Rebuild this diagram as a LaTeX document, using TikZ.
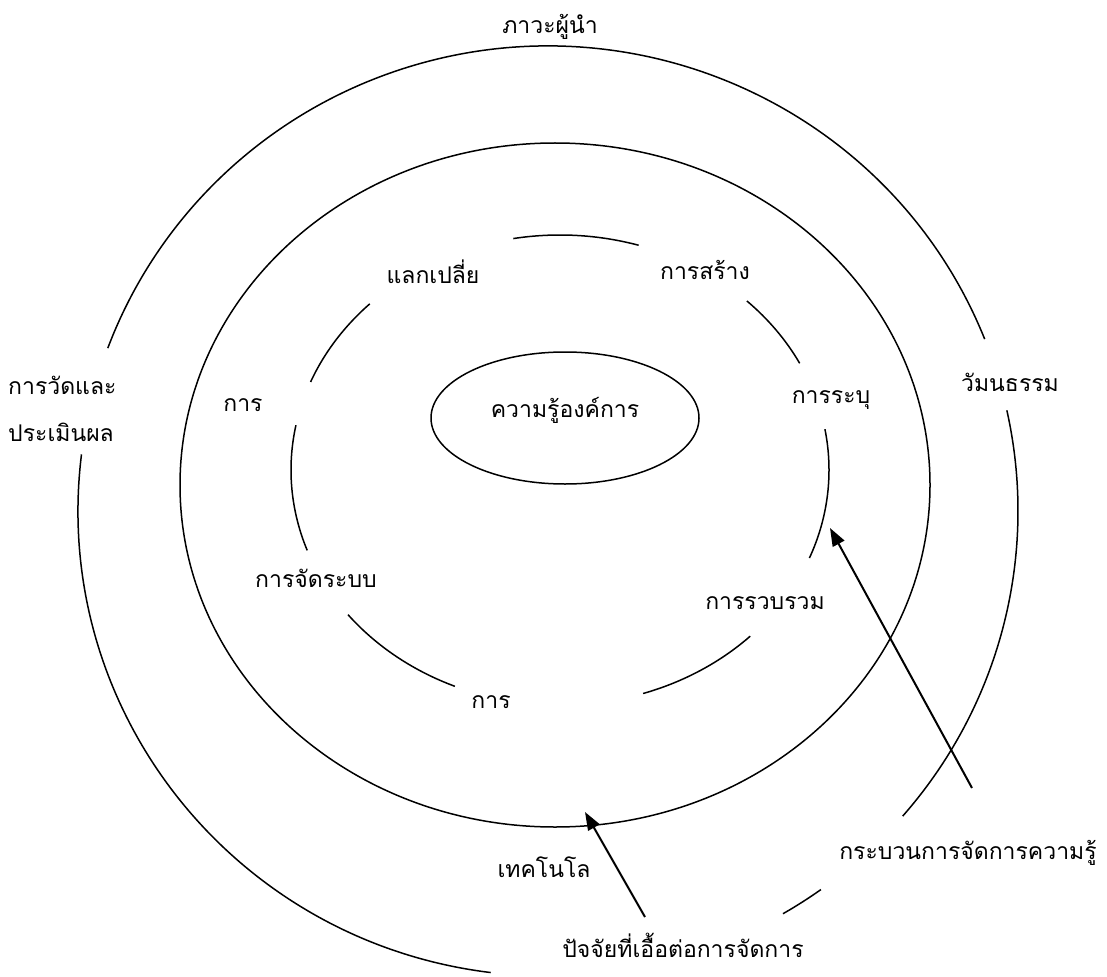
\documentclass[tikz,border=0pt]{standalone}
\usepackage{fontspec}
\newfontfamily\thaifont[Script=Thai]{Loma}
\usetikzlibrary{arrows.meta,shapes.geometric}
\begin{document}
\begin{tikzpicture}[x=1pt,y=-1pt,
  ring/.style={line width=1.5pt},
  lbl/.style={font=\thaifont\fontsize{23}{27}\selectfont, inner sep=0pt},
  pointer/.style={line width=2pt, -{Triangle[length=18pt,width=13pt]}}]
\useasboundingbox (0,0) rectangle (1107,976);

% outer ring, broken where the labels sit
\coordinate (oc) at (548,511);
\foreach \a/\b in {-173/-263, 60/54.5, 41/-12.5, -21.7/-159.5}
  \draw[ring] ([shift={(\a:470 and 465)}]oc) arc[start angle=\a, end angle=\b, x radius=470, y radius=465];

% middle ring
\draw[ring] (555,485) ellipse[x radius=375, y radius=342];

% inner broken ring of the knowledge process
\coordinate (ic) at (560,470);
\foreach \a/\b in {-100/-73, -46/-27, -10/22, 45/72, 113/142, 160/191, 202/225}
  \draw[ring] ([shift={(\a:269 and 235)}]ic) arc[start angle=\a, end angle=\b, x radius=269, y radius=235];

% core
\node[lbl, draw, line width=1.5pt, ellipse, minimum width=268pt, minimum height=132pt] (core) at (565,418) {};
\node[lbl] (corelbl) at (565,410) {ความรู้องค์การ};

% labels
\node[lbl] (lead) at (550,27) {ภาวะผู้นำ};
\node[lbl, anchor=west] (meas1) at (8,385) {การวัดและ};
\node[lbl, anchor=west] (meas2) at (8,432) {ประเมินผล};
\node[lbl] (cult) at (1010,382) {วัมนธรรม};
\node[lbl] (share) at (433,272) {แลกเปลี่ย};
\node[lbl] (create) at (705,270) {การสร้าง};
\node[lbl] (kar1) at (243,405) {การ};
\node[lbl] (ident) at (831,400) {การระบุ};
\node[lbl] (organize) at (316,578) {การจัดระบบ};
\node[lbl] (collect) at (765,603) {การรวบรวม};
\node[lbl] (kar2) at (491,702) {การ};
\node[lbl] (tech) at (544,867) {เทคโนโล};
\node[lbl] (process) at (968,853) {กระบวนการจัดการความรู้};
\node[lbl] (factor) at (683,945) {ปัจจัยที่เอื้อต่อการจัดการ};

% pointers
\coordinate (p1) at (972,788);
\coordinate (t1) at (830,528);
\coordinate (p2) at (645,917);
\coordinate (t2) at (585,812);
\draw[pointer] (p1) -- (t1);
\draw[pointer] (p2) -- (t2);
\end{tikzpicture}
\end{document}
